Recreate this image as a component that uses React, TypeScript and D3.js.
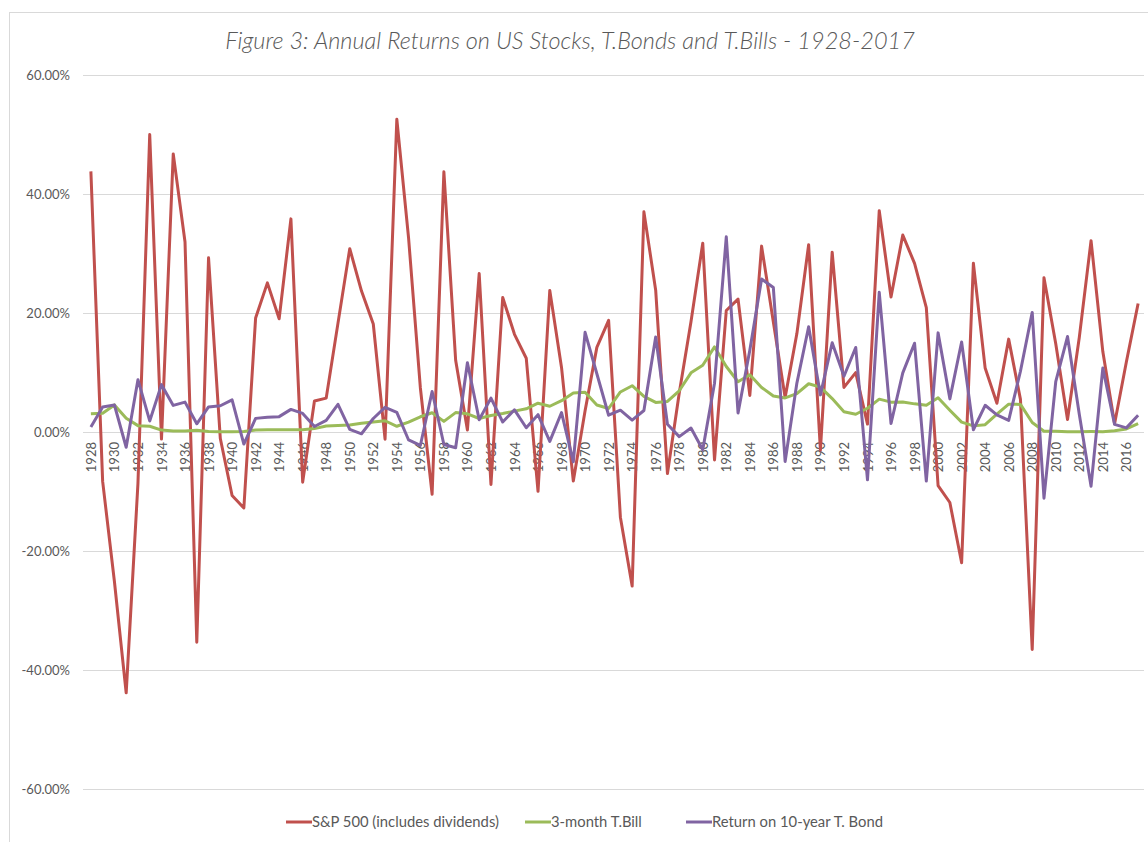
import React, { useEffect, useRef } from 'react';
import * as d3 from 'd3';

const years: number[] = d3.range(1928, 2018);

const sp500: number[] = [
    43.81, -8.30, -25.12, -43.84, -8.64, 49.98, -1.19, 46.74, 31.94, -35.34,
    29.28, -1.10, -10.67, -12.77, 19.17, 25.06, 19.03, 35.82, -8.43, 5.20,
    5.70, 18.30, 30.81, 23.68, 18.15, -1.21, 52.56, 32.60, 7.44, -10.46,
    43.72, 12.06, 0.34, 26.64, -8.81, 22.61, 16.42, 12.40, -9.97, 23.80,
    10.81, -8.24, 3.56, 14.22, 18.76, -14.31, -25.90, 37.00, 23.83, -6.98,
    6.51, 18.52, 31.74, -4.70, 20.42, 22.34, 6.15, 31.24, 18.49, 5.81,
    16.54, 31.48, -3.06, 30.23, 7.49, 9.97, 1.33, 37.20, 22.68, 33.10,
    28.34, 20.89, -9.03, -11.85, -21.97, 28.36, 10.74, 4.83, 15.61, 5.48,
    -36.55, 25.94, 14.82, 2.10, 15.89, 32.15, 13.52, 1.38, 11.77, 21.61,
];

const tBill: number[] = [
    3.08, 3.16, 4.55, 2.31, 1.07, 0.96, 0.32, 0.18, 0.17, 0.30,
    0.08, 0.04, 0.03, 0.08, 0.34, 0.38, 0.38, 0.38, 0.38, 0.57,
    1.02, 1.10, 1.17, 1.48, 1.67, 1.89, 0.96, 1.66, 2.56, 3.23,
    1.78, 3.26, 3.05, 2.27, 2.78, 3.11, 3.51, 3.90, 4.84, 4.33,
    5.26, 6.56, 6.69, 4.54, 3.95, 6.73, 7.78, 5.99, 4.97, 5.13,
    6.93, 9.94, 11.22, 14.30, 11.01, 8.45, 9.61, 7.49, 6.04, 5.72,
    6.45, 8.11, 7.55, 5.61, 3.41, 2.98, 3.99, 5.52, 5.02, 5.05,
    4.73, 4.51, 5.76, 3.67, 1.66, 1.03, 1.23, 3.01, 4.68, 4.64,
    1.59, 0.14, 0.13, 0.03, 0.05, 0.07, 0.05, 0.21, 0.51, 1.39,
];

const tBond: number[] = [
    0.84, 4.20, 4.54, -2.56, 8.79, 1.86, 7.96, 4.47, 5.02, 1.38,
    4.21, 4.41, 5.40, -2.02, 2.29, 2.49, 2.58, 3.80, 3.13, 0.92,
    1.95, 4.66, 0.43, -0.30, 2.27, 4.14, 3.29, -1.34, -2.26, 6.80,
    -2.10, -2.65, 11.64, 2.06, 5.69, 1.68, 3.73, 0.72, 2.91, -1.58,
    3.27, -5.01, 16.75, 9.79, 2.82, 3.66, 1.99, 3.61, 15.98, 1.29,
    -0.78, 0.67, -2.99, 8.20, 32.81, 3.20, 13.73, 25.71, 24.28, -4.96,
    8.22, 17.69, 6.24, 15.00, 9.36, 14.21, -8.04, 23.48, 1.43, 9.94,
    14.92, -8.25, 16.66, 5.57, 15.12, 0.38, 4.49, 2.87, 1.96, 10.21,
    20.10, -11.12, 8.46, 16.04, 2.97, -9.10, 10.75, 1.28, 0.69, 2.80,
];

const yTicks: number[] = [-60, -40, -20, 0, 20, 40, 60];

const seriesNames: string[] = ['S&P 500 (includes dividends)', '3-month T.Bill', 'Return on 10-year T. Bond'];
const seriesColors: string[] = ['#C0504D', '#9BBB59', '#8064A2'];

const title = 'Figure 3: Annual Returns on US Stocks, T.Bonds and T.Bills - 1928-2017';

const App: React.FC = () => {
    const svgRef = useRef<SVGSVGElement | null>(null);
    const width = 1148;
    const height = 842;

    useEffect(() => {
        const margin = { top: 75, right: 4, bottom: 53, left: 85 };
        const font = 'Lato, "Open Sans", sans-serif';

        const svg = d3.select(svgRef.current)
            .attr('width', width)
            .attr('height', height);

        svg.selectAll('*').remove();

        // chart border
        svg.append('rect')
            .attr('x', 9.5)
            .attr('y', 12.5)
            .attr('width', width)
            .attr('height', height)
            .attr('fill', 'white')
            .attr('stroke', '#d9d9d9');

        const xScale = d3.scalePoint<number>()
            .domain(years)
            .range([margin.left, width - margin.right])
            .padding(0.5);

        const yScale = d3.scaleLinear()
            .domain([-60, 60])
            .range([height - margin.bottom, margin.top]);

        // gridlines + y labels
        const yAxis = svg.append('g')
            .attr('transform', `translate(${margin.left - 2},0)`)
            .call(d3.axisLeft(yScale)
                .tickValues(yTicks)
                .tickSize(-(width - margin.right - margin.left + 2))
                .tickPadding(13)
                .tickFormat(d => `${(+d).toFixed(2)}%`));
        yAxis.select('.domain').remove();
        yAxis.selectAll('line').attr('stroke', '#d9d9d9');
        yAxis.selectAll('text')
            .attr('fill', '#595959')
            .style('font-family', font)
            .style('font-size', '13px');

        // x labels along the zero line
        const xAxis = svg.append('g')
            .attr('transform', `translate(0,${yScale(0)})`)
            .call(d3.axisBottom(xScale)
                .tickValues(years.filter((_, i) => i % 2 === 0))
                .tickSize(0)
                .tickFormat(d => String(d)));
        xAxis.select('.domain').remove();
        xAxis.selectAll('text')
            .attr('fill', '#595959')
            .style('font-family', font)
            .style('font-size', '13px')
            .attr('transform', 'rotate(-90)')
            .attr('text-anchor', 'end')
            .attr('dy', '0.35em')
            .attr('x', -10)
            .attr('y', 0);

        const line = d3.line<number>()
            .x((_, i) => xScale(years[i]) as number)
            .y(d => yScale(d));

        [sp500, tBill, tBond].forEach((values, i) => {
            svg.append('path')
                .datum(values)
                .attr('fill', 'none')
                .attr('stroke', seriesColors[i])
                .attr('stroke-width', 3)
                .attr('stroke-linejoin', 'round')
                .attr('d', line);
        });

        // title
        svg.append('text')
            .attr('x', 570)
            .attr('y', 49)
            .attr('text-anchor', 'middle')
            .attr('fill', '#595959')
            .style('font-family', font)
            .style('font-style', 'italic')
            .style('font-weight', 300)
            .style('font-size', '23.5px')
            .text(title);

        // legend
        const legendX = [286, 525, 686];
        const legend = svg.append('g').attr('transform', `translate(0,${822})`);
        seriesNames.forEach((name, i) => {
            legend.append('line')
                .attr('x1', legendX[i])
                .attr('x2', legendX[i] + 26)
                .attr('y1', 0)
                .attr('y2', 0)
                .attr('stroke', seriesColors[i])
                .attr('stroke-width', 3);
            legend.append('text')
                .attr('x', legendX[i] + 26)
                .attr('y', 0)
                .attr('dy', '0.35em')
                .attr('fill', '#595959')
                .style('font-family', font)
                .style('font-size', '14.8px')
                .text(name);
        });
    }, [width, height]);

    return <svg ref={svgRef} style={{ position: 'absolute', left: 0, top: 0 }}></svg>;
};

export default App;
